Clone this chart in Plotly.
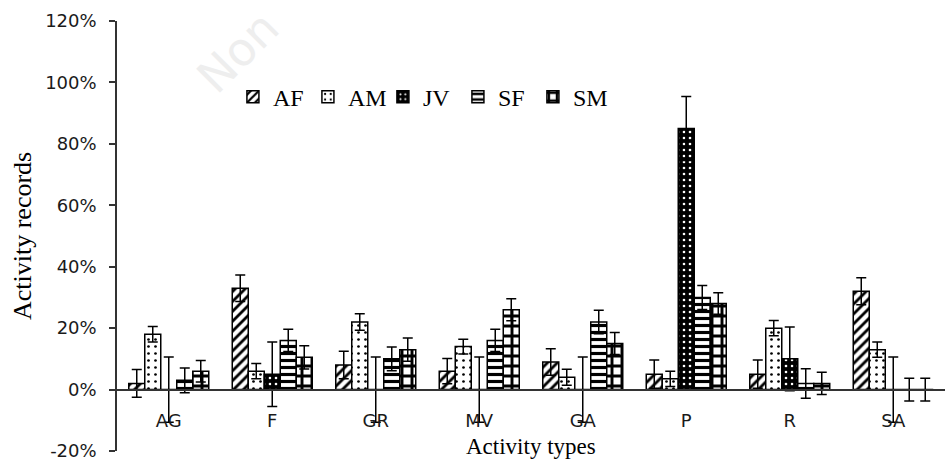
import plotly.graph_objects as go

# ---- data ----
categories = ["AG", "F", "GR", "MV", "GA", "P", "R", "SA"]
series_names = ["AF", "AM", "JV", "SF", "SM"]

AF = [2, 33, 8, 6, 9, 5, 5, 32]
AF_err = [4.5, 4.3, 4.5, 4.1, 4.3, 4.6, 4.6, 4.4]
AM = [18, 6, 22, 14, 4, 3.5, 20, 13]
AM_err = [2.5, 2.5, 2.7, 2.4, 2.6, 2.5, 2.5, 2.5]
JV = [0, 5, 0, 0, 0, 85, 10, 0]
JV_err = [10.6, 10.5, 10.6, 10.6, 10.6, 10.4, 10.4, 10.6]
SF = [3, 16, 10, 16, 22, 30, 2, 0]
SF_err = [4, 3.6, 3.9, 3.6, 3.8, 3.9, 4.8, 3.7]
SM = [6, 10.5, 13, 26, 15, 28, 2, 0]
SM_err = [3.5, 3.8, 3.8, 3.6, 3.6, 3.5, 3.6, 3.7]

values = [AF, AM, JV, SF, SM]
errors = [AF_err, AM_err, JV_err, SF_err, SM_err]

y_ticks = [-20, 0, 20, 40, 60, 80, 100, 120]
y_ticktext = ["-20%", "0%", "20%", "40%", "60%", "80%", "100%", "120%"]

patterns = [
    dict(shape="/", fgcolor="black", bgcolor="white", size=7, solidity=0.4, fillmode="replace"),
    dict(shape=".", fgcolor="black", bgcolor="white", size=7, solidity=0.12, fillmode="replace"),
    dict(shape=".", fgcolor="white", bgcolor="black", size=6, solidity=0.15, fillmode="replace"),
    dict(shape="-", fgcolor="black", bgcolor="white", size=7, solidity=0.45, fillmode="replace"),
    dict(shape="+", fgcolor="black", bgcolor="white", size=10, solidity=0.5, fillmode="replace"),
]

fig = go.Figure()
for name, vals, errs, pat in zip(series_names, values, errors, patterns):
    fig.add_trace(go.Bar(
        name=name, x=categories, y=vals,
        marker=dict(color="white", line=dict(color="black", width=1.5), pattern=pat),
        error_y=dict(type="data", array=errs, visible=True, color="black", thickness=1.5, width=5),
    ))

serif = "Liberation Serif"
sans = "DejaVu Sans"

fig.update_layout(
    width=945, height=462,
    margin=dict(l=117, r=0, t=21, b=11),
    paper_bgcolor="white", plot_bgcolor="white",
    barmode="group", bargap=0.227, bargroupgap=0,
    showlegend=True,
    legend=dict(orientation="h", x=0.14, xanchor="left", y=0.823, yanchor="middle",
                font=dict(family=serif, size=24, color="black"), bgcolor="rgba(0,0,0,0)",
                traceorder="normal", itemwidth=30, entrywidth=30),
    xaxis=dict(type="category", anchor="free", position=20 / 140,
               showline=True, linecolor="#333333", linewidth=1.5,
               ticks="", showgrid=False, zeroline=False,
               tickfont=dict(family=sans, size=18, color="#1a1a1a"),
               ticklabelstandoff=15),
    yaxis=dict(range=[-20, 120], tickvals=y_ticks, ticktext=y_ticktext,
               showline=True, linecolor="#333333", linewidth=1.5,
               ticks="outside", ticklen=6, tickcolor="#333333", tickwidth=1.5,
               showgrid=False, zeroline=False,
               tickfont=dict(family=sans, size=18, color="#1a1a1a"),
               ticklabelstandoff=9),
    annotations=[
        dict(text="Activity types", xref="paper", yref="paper", x=0.5, y=(451 - 446) / 430,
             xanchor="center", yanchor="middle", showarrow=False,
             font=dict(family=serif, size=23, color="black")),
        dict(text="Activity records", xref="paper", yref="paper", x=(22 - 117) / 828, y=0.5,
             xanchor="center", yanchor="middle", textangle=-90, showarrow=False,
             font=dict(family=serif, size=26, color="black")),
        dict(text="Non", xref="paper", yref="paper", x=(238 - 117) / 828, y=(451 - 52) / 430,
             xanchor="center", yanchor="middle", textangle=-45, showarrow=False,
             font=dict(family=sans, size=46, color="#eeeeee")),
    ],
)

fig.write_html("out.html")
